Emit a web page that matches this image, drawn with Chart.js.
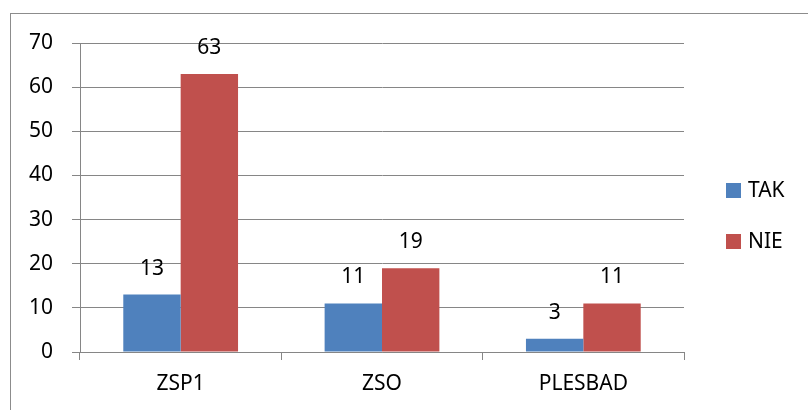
<!DOCTYPE html>
<html>
<head>
<meta charset="utf-8">
<script src="https://cdn.jsdelivr.net/npm/chart.js@4"></script>
<style>
    html, body { margin: 0; padding: 0; background: #fff; }
    #frame {
        position: absolute; left: 10px; top: 13px; width: 900px; height: 500px;
        border-left: 1px solid #8c8c8c; border-top: 1px solid #8c8c8c;
    }
    #wrap { position: absolute; left: 0; top: 0; width: 808px; height: 410px; }
</style>
</head>
<body>
<div id="frame"></div>
<div id="wrap"><canvas id="chart" width="808" height="410"></canvas></div>
<script>
const categories = ['ZSP1', 'ZSO', 'PLESBAD'];
const takValues = [13, 11, 3];
const nieValues = [63, 19, 11];
const yTicks = [0, 10, 20, 30, 40, 50, 60, 70];

const FONT = '"Noto Sans", Lato, sans-serif';

// draws the value above each bar, the way Excel does
const valueLabels = {
    id: 'valueLabels',
    afterDatasetsDraw(chart) {
        const ctx = chart.ctx;
        ctx.save();
        ctx.font = '21px ' + FONT;
        ctx.fillStyle = '#000';
        ctx.textAlign = 'center';
        ctx.textBaseline = 'middle';
        chart.data.datasets.forEach((ds, i) => {
            chart.getDatasetMeta(i).data.forEach((bar, j) => {
                ctx.fillText(ds.data[j], bar.x, bar.y - 26);
            });
        });
        ctx.restore();
    }
};

// legend on the right, square then label, like the Excel one
const sideLegend = {
    id: 'sideLegend',
    afterDraw(chart) {
        const ctx = chart.ctx;
        const x = chart.chartArea.right + 42;
        const mid = (chart.chartArea.top + chart.chartArea.bottom) / 2;
        ctx.save();
        ctx.font = '21px ' + FONT;
        ctx.textAlign = 'left';
        ctx.textBaseline = 'middle';
        chart.data.datasets.forEach((ds, i) => {
            const y = mid - 7 + i * 51;
            ctx.fillStyle = ds.backgroundColor;
            ctx.fillRect(x, y - 7.5, 15, 15);
            ctx.fillStyle = '#000';
            ctx.fillText(ds.label, x + 22, y + 1);
        });
        ctx.restore();
    }
};

const ctx = document.getElementById('chart').getContext('2d');
new Chart(ctx, {
    type: 'bar',
    data: {
        labels: categories,
        datasets: [{
            label: 'TAK',
            data: takValues,
            backgroundColor: '#4F81BD',
            borderWidth: 0,
        }, {
            label: 'NIE',
            data: nieValues,
            backgroundColor: '#C0504D',
            borderWidth: 0,
        }],
    },
    options: {
        responsive: false,
        animation: false,
        categoryPercentage: 0.57,
        barPercentage: 1,
        layout: {
            padding: { left: 0, top: 43, right: 124, bottom: 0 }
        },
        scales: {
            x: {
                grid: { drawOnChartArea: false, drawTicks: true, tickLength: 8, color: '#868686' },
                border: { color: '#868686' },
                ticks: { color: '#000', font: { family: FONT, size: 21 }, padding: 11 },
                afterFit: axis => { axis.height = 58; }
            },
            y: {
                min: 0,
                max: 70,
                afterBuildTicks: axis => { axis.ticks = yTicks.map(v => ({ value: v })); },
                grid: { color: '#868686', tickLength: 8 },
                border: { color: '#868686' },
                ticks: { color: '#000', font: { family: FONT, size: 21 }, padding: 19 },
                afterFit: axis => { axis.width = 80; }
            }
        },
        plugins: {
            legend: { display: false },
            tooltip: { enabled: false }
        }
    },
    plugins: [valueLabels, sideLegend]
});
</script>
</body>
</html>
